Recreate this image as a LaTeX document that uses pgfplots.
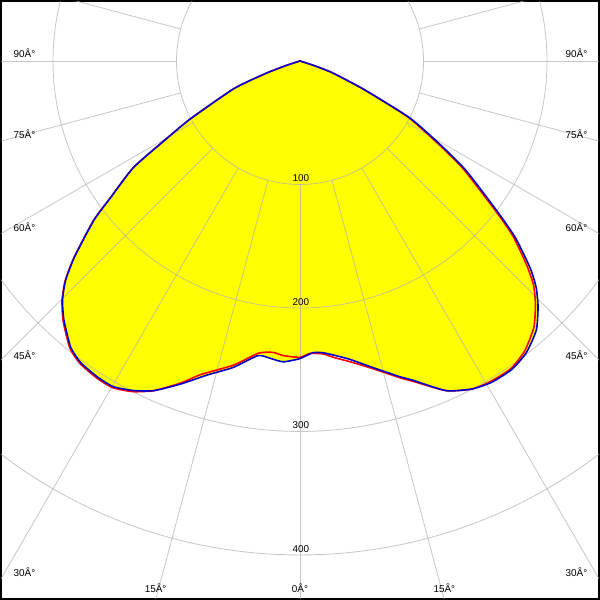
\documentclass[border=0pt]{standalone}
\usepackage{pgfplots}
\pgfplotsset{compat=1.18}
\usepackage{fontspec}
\setmainfont{Liberation Sans}
\definecolor{gridc}{RGB}{175,175,175}
\definecolor{cblue}{RGB}{0,0,204}
\definecolor{cred}{RGB}{255,0,0}
\definecolor{cyel}{RGB}{255,255,0}
\begin{document}
\begin{tikzpicture}
\begin{axis}[
  scale only axis, width=600bp, height=600bp,
  xmin=-241.935, xmax=241.935, ymin=-435.484, ymax=48.387,
  ticks=none, axis line style={line width=2.5bp},
  clip=true,
  every node/.style={font=\fontsize{11.5}{12}\selectfont, inner sep=0pt},
]
% C-plane curves (angle measured from +x axis, 0 deg down = -90)
\addplot[fill=cyel, draw=none, data cs=polar, smooth, tension=0.35] coordinates {
(-15,0) (-18,12) (-20,28) (-24,57) (-27.4,100) (-30.7,131) (-33.4,161)
(-37.5,203) (-39.4,226) (-42,251) (-43.8,265) (-45.9,277) (-48.7,290)
(-52.2,299) (-55.5,303) (-59.1,303) (-62.3,300) (-66.1,292) (-70.6,274)
(-72.5,268) (-76.7,255) (-80.5,245) (-83.3,240) (-85.5,237) (-87.5,236.5)
(-90,241) (-93.2,244) (-95.7,242) (-98.1,241) (-102.3,254) (-106.4,265)
(-110.3,279) (-113.9,292) (-116.8,299) (-119.8,304) (-122.6,304) (-126,302)
(-128.7,297) (-132.3,284) (-134.8,273) (-136.9,260) (-139,242) (-142.3,211)
(-144.2,189) (-147.4,160) (-149.9,124) (-152.2,100) (-157.3,58) (-160,30)
(-162,12) (-165,0)
} -- cycle;
% grid
\draw[gridc, line width=0.8bp, opacity=0.7] (axis cs:0,0) circle[radius=100];
\draw[gridc, line width=0.8bp, opacity=0.7] (axis cs:0,0) circle[radius=200];
\draw[gridc, line width=0.8bp, opacity=0.7] (axis cs:0,0) circle[radius=300];
\draw[gridc, line width=0.8bp, opacity=0.7] (axis cs:0,0) circle[radius=400];
\draw[gridc, line width=0.8bp, opacity=0.7] (axis cs:0,0) circle[radius=500];
\pgfplotsinvokeforeach{0,15,30,45,60,75,90,105,120,135,150,165,180,195,210,225,240,255,270,285,300,315,330,345}{
  \draw[gridc, line width=0.8bp, opacity=0.7] (axis cs:{100*cos(#1)},{100*sin(#1)}) -- (axis cs:{900*cos(#1)},{900*sin(#1)});
}
\addplot[cred, line width=1.6bp, data cs=polar, smooth, tension=0.35] coordinates {
(-15,0) (-18,11) (-20,27) (-24,56) (-27.4,98) (-30.7,128) (-33.4,158)
(-37.5,200) (-39.4,223) (-42,247) (-43.8,262) (-45.9,274) (-48.7,287)
(-52.2,297) (-55.5,302) (-59.1,302) (-62.3,300) (-66.1,292) (-70.6,275)
(-72.5,269) (-76.7,256) (-80.5,247) (-83.3,242) (-85.5,238) (-88.1,237)
(-90,240) (-93.2,239) (-95.3,237) (-98.1,239) (-102.3,252) (-107.6,266.5)
(-110.3,278) (-113.9,292) (-116.8,300) (-119.8,305) (-122.6,305) (-126,303)
(-128.7,298) (-132.3,285) (-134.8,273.5) (-136.9,260.5) (-139,242.5) (-142.3,211.5)
(-144.2,189.5) (-147.4,160) (-149.9,124) (-152.2,100) (-157.3,58) (-160,30)
(-162,12) (-165,0)
};
\addplot[cblue, line width=1.6bp, data cs=polar, smooth, tension=0.35] coordinates {
(-15,0) (-18,12) (-20,28) (-24,57) (-27.4,100) (-30.7,131) (-33.4,161)
(-37.5,203) (-39.4,226) (-42,251) (-43.8,265) (-45.9,277) (-48.7,290)
(-52.2,299) (-55.5,303) (-59.1,303) (-62.3,300) (-66.1,292) (-70.6,274)
(-72.5,268) (-76.7,255) (-80.5,245) (-83.3,240) (-85.5,237) (-87.5,236.5)
(-90,241) (-93.2,244) (-95.7,242) (-98.1,241) (-102.3,254) (-106.4,265)
(-110.3,279) (-113.9,292) (-116.8,299) (-119.8,304) (-122.6,304) (-126,302)
(-128.7,297) (-132.3,284) (-134.8,273) (-136.9,260) (-139,242) (-142.3,211)
(-144.2,189) (-147.4,160) (-149.9,124) (-152.2,100) (-157.3,58) (-160,30)
(-162,12) (-165,0)
};
% radius labels
\node at (axis cs:0.8,-95.2) {100};
\node at (axis cs:0.8,-195.2) {200};
\node at (axis cs:0.8,-295.2) {300};
\node at (axis cs:0.8,-395.2) {400};
% angle labels
\node[anchor=west] at (axis cs:-234.7,6.45) {90Â°};
\node[anchor=west] at (axis cs:-234.7,-58.9) {75Â°};
\node[anchor=west] at (axis cs:-234.7,-134.7) {60Â°};
\node[anchor=west] at (axis cs:-234.7,-237.9) {45Â°};
\node[anchor=west] at (axis cs:-234.7,-413.7) {30Â°};
\node[anchor=east] at (axis cs:235.5,6.45) {90Â°};
\node[anchor=east] at (axis cs:235.5,-58.9) {75Â°};
\node[anchor=east] at (axis cs:235.5,-134.7) {60Â°};
\node[anchor=east] at (axis cs:235.5,-237.9) {45Â°};
\node[anchor=east] at (axis cs:235.5,-413.7) {30Â°};
\node at (axis cs:-116.9,-426.6) {15Â°};
\node at (axis cs:0,-426.6) {0Â°};
\node at (axis cs:116.9,-426.6) {15Â°};
\end{axis}
\end{tikzpicture}
\end{document}
